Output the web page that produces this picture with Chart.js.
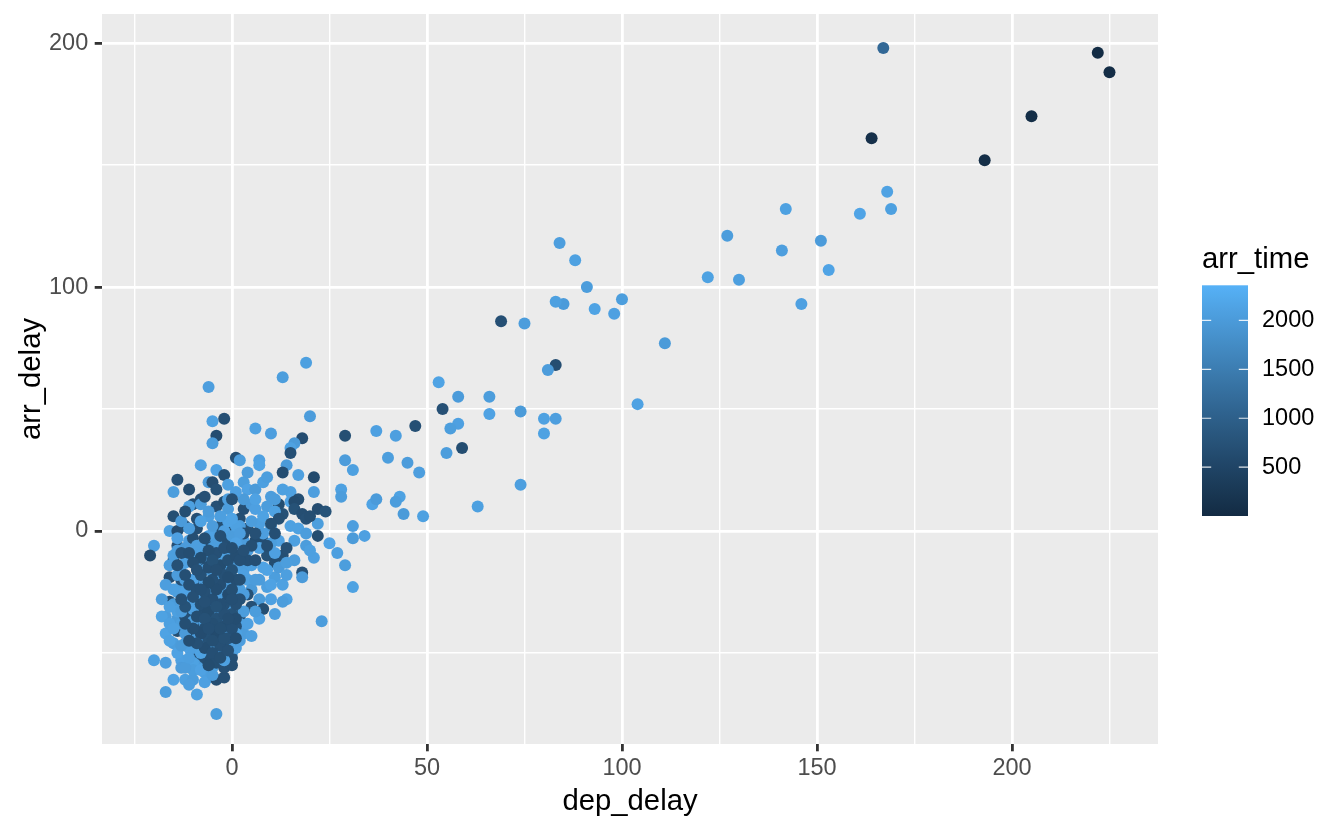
<!DOCTYPE html>
<html>
<head>
<meta charset="utf-8">
<script src="https://cdn.jsdelivr.net/npm/chart.js@4.4.1/dist/chart.umd.min.js"></script>
<style>
  body { margin: 0; background: #fff; }
  canvas { display: block; }
</style>
</head>
<body>
<canvas id="flightChart" width="1344" height="830"></canvas>
<script>
// [dep_delay, arr_delay, arr_time]
var spreadFlights = [
	[167,198,1150],[222,196,20],[225,188,45],[205,170,60],[193,152,80],[164,161,110],
	[168,139,2120],[169,132,2080],[161,130,2150],[142,132,2100],[141,115,2060],[151,119,2010],
	[153,107,2140],[146,93,2090],[127,121,2030],[122,104,2110],[130,103,2070],[111,77,2000],
	[104,52,2120],[100,95,2050],[98,89,2090],[93,91,2130],[91,100,2030],[88,111,2100],
	[84,118,2060],[85,93,2010],[83,94,2080],[75,85,2040],[69,86,700],[83,68,680],
	[81,66,2020],[80,46,2100],[83,46,2060],[80,40,2110],[74,49,2000],[74,19,2070],
	[66,55,2040],[66,48,2120],[58,55,2010],[58,44,2090],[56,42,2050],[53,61,2130],
	[54,50,720],[55,32,2030],[59,34,660],[63,10,2080],[47,43,700],[48,24,2060],
	[45,28,2020],[49,6,2100],[44,7,2000],[42,39,2070],[43,14,2110],[42,12,2040],
	[37,41,2090],[40,30,2050],[29,39,690],[29,29,2020],[31,25,2080],[28,17,2100],
	[28,14,2040],[36,11,2130],[37,13,2010],[31,2,2060],[31,-3,2000],[34,-2,2090],
	[29,-14,2050],[31,-23,2110],[23,-37,2030],[27,-9,2070],[25,-5,2140]
];

var upperRightFlights = [
	[13,63,2050],[19,69,2080],[20,47,2020],[6,42,2100],[10,40,2060],[18,38,640],
	[16,36,2000],[15,34,2110],[15,32,700],[1,30,720],[2,29,2040],[7,29,2090],
	[7,27,2130],[14,27,2010],[13,24,660],[17,23,2070],[21,22,610],[3,20,2050],
	[4,17,2120],[6,17,1990],[8,20,2080],[10,14,2030],[15,16,2100],[17,13,680],
	[21,16,2060],[15,12,2140],[12,11,650],[13,7,730],[3,9,700],[5,11,2020],
	[6,9,2090],[9,10,2040],[11,8,2110],[12,5,690],[16,12,620],[16,9,740],
	[18,7,670],[19,5,710],[22,9,640],[24,8,760],[22,3,2050],[15,2,2100],
	[10,2,2000],[7,3,2070],[2,5,680],[4,1,720],[22,-2,650],[19,-6,2030],
	[16,-4,2080],[12,-4,2120],[8,-4,700],[6,-4,630],[3,-4,2060]
];

var lowerRightFlights = [
	[13,-10,690],[9,-10,740],[11,-13,660],[16,-12,2040],[21,-11,2090],[18,-17,710],
	[18,-19,2010],[8,-15,2130],[11,-19,2050],[13,-22,2100],[9,-23,2070],[7,-20,2020],
	[14,-28,2110],[13,-29,2040],[10,-28,2090],[7,-28,2000],[8,-32,680],[11,-34,2060],
	[7,-36,2120],[5,-31,720],[2,-39,2030],[0,-46,650],[0,-50,2080],[0,-52,700],
	[3,-16,2050],[4,-20,2100],[5,-24,1990],[1,-31,690],[2,-35,760]
];

var upperLeftFlights = [
	[-6,59,2060],[-5,45,2100],[-2,46,700],[-4,39,640],[-5,36,2030],[-8,27,2090],
	[-4,25,2120],[-2,23,690],[-14,21,720],[-15,16,2050],[-11,17,660],[-10,11,700],
	[-8,13,750],[-6,20,2010],[-5,20,680],[-4,17,730],[-1,19,2080],[-8,11,2040],
	[-15,6,690],[-16,0,2110],[-14,0,640],[-12,2,710],[-9,1,670],[-6,6,2070],
	[-4,10,720],[-2,12,650],[-1,9,2030],[-20,-6,2090],[-14,-6,700],[-11,-4,2060],
	[-6,-5,680],[-3,-4,2020],[-21,-10,600]
];

var lowerLeftFlights = [
	[-16,-19,700],[-15,-24,2080],[-16,-29,660],[-17,-35,2040],[-18,-35,2110],[-14,-36,2000],
	[-11,-35,2070],[-17,-42,2130],[-15,-46,2050],[-14,-41,690],[-12,-46,2020],[-20,-53,2100],
	[-17,-54,2060],[-13,-53,2090],[-13,-56,2010],[-15,-61,2120],[-17,-66,2040],[-12,-61,2080],
	[-10,-61,2030],[-9,-67,2100],[-11,-63,2060],[-6,-60,2000],[-5,-56,2110],[-4,-61,640],
	[-2,-60,700],[-4,-75,2050],[-9,-51,720],[-8,-53,680]
];

var coreLightFlights = [
	[-15,-10,2050],[-13,-14,2100],[-12,-20,2020],[-14,-25,2080],[-11,-28,2130],[-13,-33,2040],[-10,-32,2090],[-12,-42,2010],[-10,-48,2070],[-8,-50,2110],
	[-9,-6,2060],[-7,-10,2000],[-6,-2,2120],[-4,-5,2050],[-2,0,2090],[0,-2,2030],[1,2,2100],[2,-1,2060],[-1,4,2140],[-5,2,2020],
	[-7,-16,2080],[-5,-17,2040],[-3,-19,2110],[-1,-23,2000],[1,-15,2070],[0,-12,2130],[2,-8,2050],[-2,-14,2090],[-8,-28,2020],[-6,-26,2100],
	[-4,-27,2060],[-2,-25,2010],[0,-31,2080],[-3,-35,2120],[-7,-38,2040],[-5,-33,2090],[-1,-40,2030],[1,-42,2110],[-9,-44,2060],[-6,-47,2000],
	[-11,-52,2070],[-8,-57,2120],[-4,-48,2050],[-2,-53,2100],[3,-33,2030],[2,-24,2080],[-10,-20,2140],[-12,-7,2010],[-16,-14,2060],[-14,-3,2090],
	[-11,1,2040],[-8,4,2110],[-6,8,2020],[-3,6,2070],[0,5,2130],[-10,-37,2050],[-15,-40,2100],[-13,-47,2000],[-16,-31,2080],[-9,-12,2040],
	[3,-18,2090],[3,-26,2060],[1,-5,2120],[-1,-8,2030],[-3,-10,2100],[-5,-7,2050],[-7,-21,2010],[-9,-29,2070],[-12,-25,2140],[-14,-18,2020]
];

var coreDarkFlights = [
	[-8,-30,690],[-7,-25,720],[-6,-33,650],[-5,-28,700],[-4,-36,740],[-3,-22,680],[-2,-30,710],[-1,-26,640],[0,-34,760],[1,-20,700],
	[-7,-40,670],[-6,-44,730],[-5,-38,690],[-4,-42,620],[-3,-47,710],[-2,-39,680],[-1,-44,750],[0,-40,700],[1,-36,660],[2,-28,720],
	[-9,-35,690],[-8,-42,640],[-9,-24,710],[-8,-18,730],[-6,-15,680],[-5,-20,700],[-3,-14,650],[-2,-18,720],[-1,-12,690],[0,-16,740],
	[1,-10,670],[-4,-9,710],[-6,-8,690],[-8,-11,630],[-10,-27,720],[-11,-22,700],[-10,-40,680],[-12,-31,740],[-7,-48,660],[-5,-50,700],
	[-3,-52,690],[-1,-49,720],[-6,-55,650],[-9,-46,710],[-11,-45,680],[-13,-28,730],[-12,-18,700],[-10,-13,670],[-13,-9,720],[-7,-3,690],
	[-3,-2,700],[-5,-12,740],[-4,-24,660],[-2,-34,710],[0,-24,690],[1,-30,720],[-1,-36,680],[-3,-30,700],[-6,-21,650],[-7,-36,730],
	[2,-12,700],[2,-20,690],[3,-8,720],[1,-44,660],[-2,-7,710],[0,-7,680],[-4,-31,740],[-8,-24,700],[-5,-45,690],[-9,-16,720],
	[-11,-9,670],[-14,-14,710],[-12,-38,690],[-6,-40,700],[-2,-44,730],[-4,-16,680],[0,-28,700],[-1,-19,660],[-7,-29,720],[-3,-40,690]
];

var coreExtraDarkFlights = [
	[-9,-38,700],[-8,-34,720],[-7,-32,680],[-6,-30,740],[-5,-35,690],[-4,-39,710],[-3,-44,660],[-2,-41,700],[-1,-38,730],[0,-43,690],
	[-8,-45,710],[-7,-43,680],[-6,-37,700],[-5,-41,650],[-4,-45,720],[-3,-37,690],[-2,-48,740],[-1,-31,700],[0,-37,680],[1,-39,710],
	[-7,-27,690],[-6,-24,720],[-5,-23,700],[-4,-20,660],[-3,-26,710],[-2,-22,690],[-1,-29,720],[0,-20,700],[1,-25,680],[2,-33,730],
	[-9,-20,700],[-8,-14,690],[-7,-13,710],[-5,-15,680],[-4,-12,720],[-3,-6,700],[-1,-4,690],[0,-10,710],[1,-1,660],[-2,-10,740],
	[-10,-23,700],[-11,-31,690],[-12,-35,720],[-10,-44,680],[-8,-47,710],[-6,-51,700],[-4,-54,690],[-2,-56,720],[0,-55,700],[-7,-52,680],
	[4,-12,700],[5,-6,690],[6,-1,720],[9,-6,680],[4,-26,710],[6,-12,700],[10,3,690],[14,-7,720],[11,-1,700],[20,6,680],
	[-9,5,700],[-12,8,690],[-7,14,720],[-10,-3,680],[-13,-20,710],[-15,-12,700],[-3,2,690],[0,13,720],[-1,1,700],[3,-1,680]
];

var coreExtraLightFlights = [
	[-14,-8,2060],[-13,-22,2100],[-15,-30,2040],[-14,-33,2080],[-12,-28,2020],[-11,-40,2110],[-13,-38,2050],[-11,-48,2090],[-9,-55,2030],[-7,-58,2070],
	[-12,-13,2120],[-10,-9,2040],[-8,-7,2080],[-6,-11,2010],[-4,-2,2100],[-2,3,2050],[0,0,2130],[2,2,2060],[3,-6,2020],[1,-13,2090],
	[-9,-19,2070],[-7,-23,2040],[-5,-25,2110],[-3,-28,2000],[-1,-33,2080],[1,-27,2050],[2,-38,2120],[3,-42,2030],[0,-47,2090],[-2,-50,2060],
	[-5,-53,2010],[-7,-45,2100],[-9,-41,2040],[-8,-36,2080],[-6,-35,2120],[-4,-33,2050],[-3,-43,2090],[-1,-46,2030],[1,-48,2070],[-10,-54,2110],
	[4,-8,2040],[5,-14,2080],[6,-20,2020],[7,-7,2100],[8,-1,2060],[9,-16,2130],[10,-5,2050],[11,-9,2090],[12,-15,2010],[14,-18,2070],
	[5,4,2040],[8,6,2110],[11,13,2030],[13,17,2080],[9,22,2050],[6,13,2120],[3,13,2000],[1,16,2090],[-1,13,2060],[4,24,2020],
	[17,1,2100],[19,-1,2040],[20,-8,2080],[14,-13,2050],[10,-22,2120],[6,-33,2030],[4,-38,2090],[5,-43,2070],[-13,4,2010],[-11,10,2100],
	[-17,-22,2060],[-18,-28,2040],[-16,-38,2080],[-14,-50,2120],[-10,-57,2050],[-7,-62,2090],[-12,-56,2020],[-16,-45,2110],[-5,-59,2030],[2,-45,2060]
];

var xTicks = [-25, 0, 25, 50, 75, 100, 125, 150, 175, 200, 225];
var xMajor = [0, 50, 100, 150, 200];
var yTicks = [-50, 0, 50, 100, 150, 200];
var yMajor = [0, 100, 200];
var legendTicks = [500, 1000, 1500, 2000];
var timeLimits = [1, 2359];

var FONT = '"Liberation Sans", Arial, Helvetica, sans-serif';

// ggplot2 default continuous colour: #132B43 -> #56B1F7 in Lab
var color = {};
color.toLab = function(hex) {
	var c = [1, 3, 5].map(function(i) { return parseInt(hex.substr(i, 2), 16) / 255; });
	var lin = c.map(function(v) { return v <= 0.04045 ? v / 12.92 : Math.pow((v + 0.055) / 1.055, 2.4); });
	var X = (0.4124564 * lin[0] + 0.3575761 * lin[1] + 0.1804375 * lin[2]) / 0.95047;
	var Y = (0.2126729 * lin[0] + 0.7151522 * lin[1] + 0.0721750 * lin[2]);
	var Z = (0.0193339 * lin[0] + 0.1191920 * lin[1] + 0.9503041 * lin[2]) / 1.08883;
	var f = function(t) { return t > 0.008856 ? Math.cbrt(t) : 7.787 * t + 16 / 116; };
	return [116 * f(Y) - 16, 500 * (f(X) - f(Y)), 200 * (f(Y) - f(Z))];
}
color.fromLab = function(lab) {
	var fy = (lab[0] + 16) / 116, fx = fy + lab[1] / 500, fz = fy - lab[2] / 200;
	var inv = function(t) { return t * t * t > 0.008856 ? t * t * t : (t - 16 / 116) / 7.787; };
	var X = 0.95047 * inv(fx), Y = inv(fy), Z = 1.08883 * inv(fz);
	var rgb = [
		 3.2404542 * X - 1.5371385 * Y - 0.4985314 * Z,
		-0.9692660 * X + 1.8760108 * Y + 0.0415560 * Z,
		 0.0556434 * X - 0.2040259 * Y + 1.0572252 * Z
	].map(function(v) {
		v = v <= 0.0031308 ? 12.92 * v : 1.055 * Math.pow(v, 1 / 2.4) - 0.055;
		return Math.round(Math.max(0, Math.min(1, v)) * 255);
	});
	return 'rgb(' + rgb.join(',') + ')';
}
color.low = color.toLab('#132B43');
color.high = color.toLab('#56B1F7');
color.ofTime = function(t) {
	var k = (t - timeLimits[0]) / (timeLimits[1] - timeLimits[0]);
	k = Math.max(0, Math.min(1, k));
	return color.fromLab(color.low.map(function(v, i) { return v + (color.high[i] - v) * k; }));
}

// draw order: outer points, then the core (lights mostly under the darks)
var flights = [].concat(
	spreadFlights, upperRightFlights, lowerRightFlights, upperLeftFlights, lowerLeftFlights,
	coreExtraLightFlights, coreExtraDarkFlights, coreLightFlights, coreDarkFlights
);

var panelPlugin = {
	id: 'panel',
	beforeDraw: function(chart) {
		var a = chart.chartArea, ctx = chart.ctx;
		ctx.save();
		ctx.fillStyle = '#ffffff';
		ctx.fillRect(0, 0, chart.width, chart.height);
		ctx.fillStyle = '#EBEBEB';
		ctx.fillRect(a.left, a.top, a.right - a.left, a.bottom - a.top);
		ctx.restore();
	},
	afterDraw: function(chart) {
		var ctx = chart.ctx;
		var barL = 1202, barT = 285.3, barW = 46, barH = 230.7;
		ctx.save();
		var grad = ctx.createLinearGradient(0, barT + barH, 0, barT);
		for (var s = 0; s <= 20; s++) {
			var t = timeLimits[0] + (timeLimits[1] - timeLimits[0]) * s / 20;
			grad.addColorStop(s / 20, color.ofTime(t));
		}
		ctx.fillStyle = grad;
		ctx.fillRect(barL, barT, barW, barH);

		ctx.strokeStyle = 'rgba(255,255,255,0.85)';
		ctx.lineWidth = 1.2;
		ctx.fillStyle = '#000';
		ctx.font = '23.5px ' + FONT;
		ctx.textBaseline = 'middle';
		ctx.textAlign = 'left';
		legendTicks.forEach(function(v) {
			var y = barT + barH - (v - timeLimits[0]) / (timeLimits[1] - timeLimits[0]) * barH;
			ctx.beginPath();
			ctx.moveTo(barL, y); ctx.lineTo(barL + 9.2, y);
			ctx.moveTo(barL + barW - 9.2, y); ctx.lineTo(barL + barW, y);
			ctx.stroke();
			ctx.fillText(String(v), 1262, y);
		});

		ctx.font = '29.3px ' + FONT;
		ctx.textBaseline = 'alphabetic';
		ctx.fillText('arr_time', 1202, 268);
		ctx.restore();
	}
};

function gridOpts(major) {
	return {
		color: '#ffffff',
		lineWidth: function(c) { return c.tick && major.indexOf(c.tick.value) >= 0 ? 2.8 : 1.4; },
		tickColor: function(c) { return c.tick && major.indexOf(c.tick.value) >= 0 ? '#333333' : 'rgba(0,0,0,0)'; },
		tickWidth: 2.8,
		tickLength: 7.3
	};
}

var ctx = document.getElementById('flightChart');
var flightChart = new Chart(ctx, {
	type: 'scatter',
	data: {
		datasets: [{
			data: flights.map(function(f) { return {x: f[0], y: f[1]}; }),
			backgroundColor: flights.map(function(f) { return color.ofTime(f[2]); }),
			borderWidth: 0,
			pointRadius: 6,
			pointHoverRadius: 6
		}]
	},
	options: {
		responsive: false,
		animation: false,
		events: [],
		layout: { padding: { left: 0, right: 186, top: 14, bottom: 0 } },
		plugins: { legend: { display: false }, tooltip: { enabled: false } },
		scales: {
			x: {
				type: 'linear',
				min: -33.33,
				max: 237.44,
				afterBuildTicks: function(s) { s.ticks = xTicks.map(function(v) { return {value: v}; }); },
				afterFit: function(s) { s.height = 86; s.paddingLeft = 0; s.paddingRight = 0; },
				grid: gridOpts(xMajor),
				border: { display: false },
				ticks: {
					autoSkip: false,
					maxRotation: 0,
					padding: 3,
					color: '#4D4D4D',
					font: { family: FONT, size: 23.5 },
					callback: function(v) { return xMajor.indexOf(v) >= 0 ? String(v) : ''; }
				},
				title: {
					display: true,
					text: 'dep_delay',
					color: '#000',
					font: { family: FONT, size: 29.3 },
					padding: { top: 0, bottom: 10.5 }
				}
			},
			y: {
				type: 'linear',
				min: -87.3,
				max: 211.9,
				afterBuildTicks: function(s) { s.ticks = yTicks.map(function(v) { return {value: v}; }); },
				afterFit: function(s) { s.width = 102; s.paddingTop = 0; s.paddingBottom = 0; },
				grid: gridOpts(yMajor),
				border: { display: false },
				ticks: {
					autoSkip: false,
					padding: 6.5,
					color: '#4D4D4D',
					font: { family: FONT, size: 23.5 },
					callback: function(v) { return yMajor.indexOf(v) >= 0 ? String(v) : ''; }
				},
				title: {
					display: true,
					text: 'arr_delay',
					color: '#000',
					font: { family: FONT, size: 29.3 },
					padding: { top: 14.7, bottom: 0 }
				}
			}
		}
	},
	plugins: [panelPlugin]
});
</script>
</body>
</html>
